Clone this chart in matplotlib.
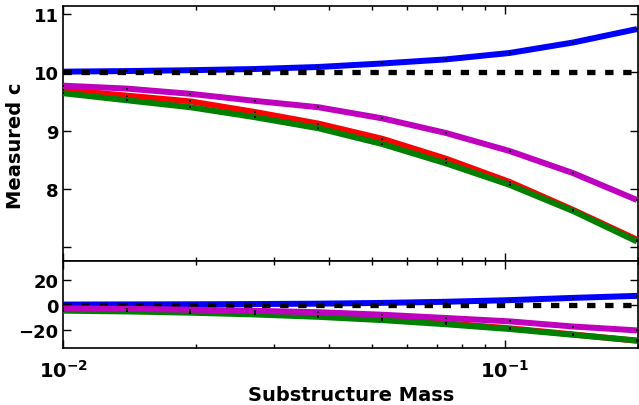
import matplotlib
matplotlib.use("Agg")
import matplotlib.pyplot as plt
from matplotlib.ticker import FixedLocator, FuncFormatter, LogLocator, NullFormatter
import numpy as np

plt.rcParams['font.family'] = ['DejaVu Sans']
plt.rcParams['font.weight'] = 'bold'
plt.rcParams['lines.scale_dashes'] = False

# ---- data ----
mass = [0.0100, 0.0139, 0.0194, 0.0271, 0.0378, 0.0527, 0.0734, 0.1024, 0.1427, 0.1990]

c_blue    = [10.01, 10.02, 10.035, 10.055, 10.09, 10.15, 10.22, 10.33, 10.51, 10.74]
c_red     = [9.70, 9.60, 9.50, 9.32, 9.12, 8.86, 8.52, 8.12, 7.64, 7.13]
c_green   = [9.64, 9.52, 9.40, 9.23, 9.04, 8.77, 8.44, 8.07, 7.62, 7.10]
c_magenta = [9.77, 9.72, 9.63, 9.51, 9.40, 9.21, 8.96, 8.65, 8.27, 7.81]

d_blue    = [0.1, 0.2, 0.3, 0.5, 0.8, 1.4, 2.3, 3.6, 5.4, 7.0]
d_red     = [-3.8, -4.4, -5.3, -6.9, -8.8, -11.4, -14.8, -18.8, -23.7, -28.8]
d_green   = [-4.8, -5.4, -6.4, -7.8, -9.7, -12.3, -15.6, -19.4, -24.0, -28.5]
d_magenta = [-3.0, -3.3, -4.0, -4.9, -6.0, -8.0, -10.6, -13.3, -17.4, -20.5]

true_c = 10.0
true_d = 0.0

top_ticks = [7, 8, 9, 10, 11]
top_ticklabels = ['', '8', '9', '10', '11']
bot_ticks = [-20, 0, 20]

fig = plt.figure(figsize=(6.39, 4.06), dpi=100)
ax1 = fig.add_axes([0.0991, 0.3539, 0.8994, 0.6296])
ax2 = fig.add_axes([0.0991, 0.1404, 0.8994, 0.2135], sharex=ax1)

LW = 4.3
series_top = [(c_blue, '#0000ff'), (c_red, '#ff0000'), (c_green, '#008000'), (c_magenta, '#bf00bf')]
series_bot = [(d_blue, '#0000ff'), (d_red, '#ff0000'), (d_green, '#008000'), (d_magenta, '#bf00bf')]

for ax, series, ref in [(ax1, series_top, true_c), (ax2, series_bot, true_d)]:
    z = 2
    for vals, col in series:
        ax.plot(mass, vals, color=col, lw=LW, zorder=z, solid_capstyle='butt')
        z += 1
        if col == '#0000ff':
            ax.axhline(ref, color='black', lw=3.8, dashes=(6.0, 7.0), zorder=z,
                       dash_capstyle='butt')
            z += 1
    for vals, col in series:
        ax.plot(mass, vals, ls='none', marker='s', ms=1.6, mec='black', mfc='black',
                mew=0, zorder=20)

ax1.set_xscale('log')
ax1.set_xlim(0.01, 0.2)
ax1.set_ylim(6.76, 11.14)
ax2.set_ylim(-34.5, 34.5)

ax1.yaxis.set_major_locator(FixedLocator(top_ticks))
ax1.set_yticklabels(top_ticklabels)
ax2.yaxis.set_major_locator(FixedLocator(bot_ticks))

def logfmt(v, pos):
    e = int(round(np.log10(v)))
    return r'$\mathbf{10^{%d}}$' % e

ax2.xaxis.set_major_locator(LogLocator(base=10))
ax2.xaxis.set_major_formatter(FuncFormatter(logfmt))
ax2.xaxis.set_minor_locator(LogLocator(base=10, subs=np.arange(2, 10)))
ax2.xaxis.set_minor_formatter(NullFormatter())
plt.setp(ax1.get_xticklabels(), visible=False)

for ax in (ax1, ax2):
    ax.tick_params(which='both', direction='in', top=True, right=True)
    ax.tick_params(which='major', length=6, width=1)
    ax.tick_params(which='minor', length=3, width=1)
    ax.tick_params(axis='y', labelsize=13)
    for s in ax.spines.values():
        s.set_linewidth(1.2)
ax2.tick_params(axis='x', labelsize=14, pad=8)

ax1.set_ylabel('Measured c', fontsize=14, fontweight='bold')
ax1.yaxis.set_label_coords(-0.066, 0.455)
ax2.set_xlabel('Substructure Mass', fontsize=14, fontweight='bold', labelpad=3)

fig.savefig('out.png', dpi=100)
